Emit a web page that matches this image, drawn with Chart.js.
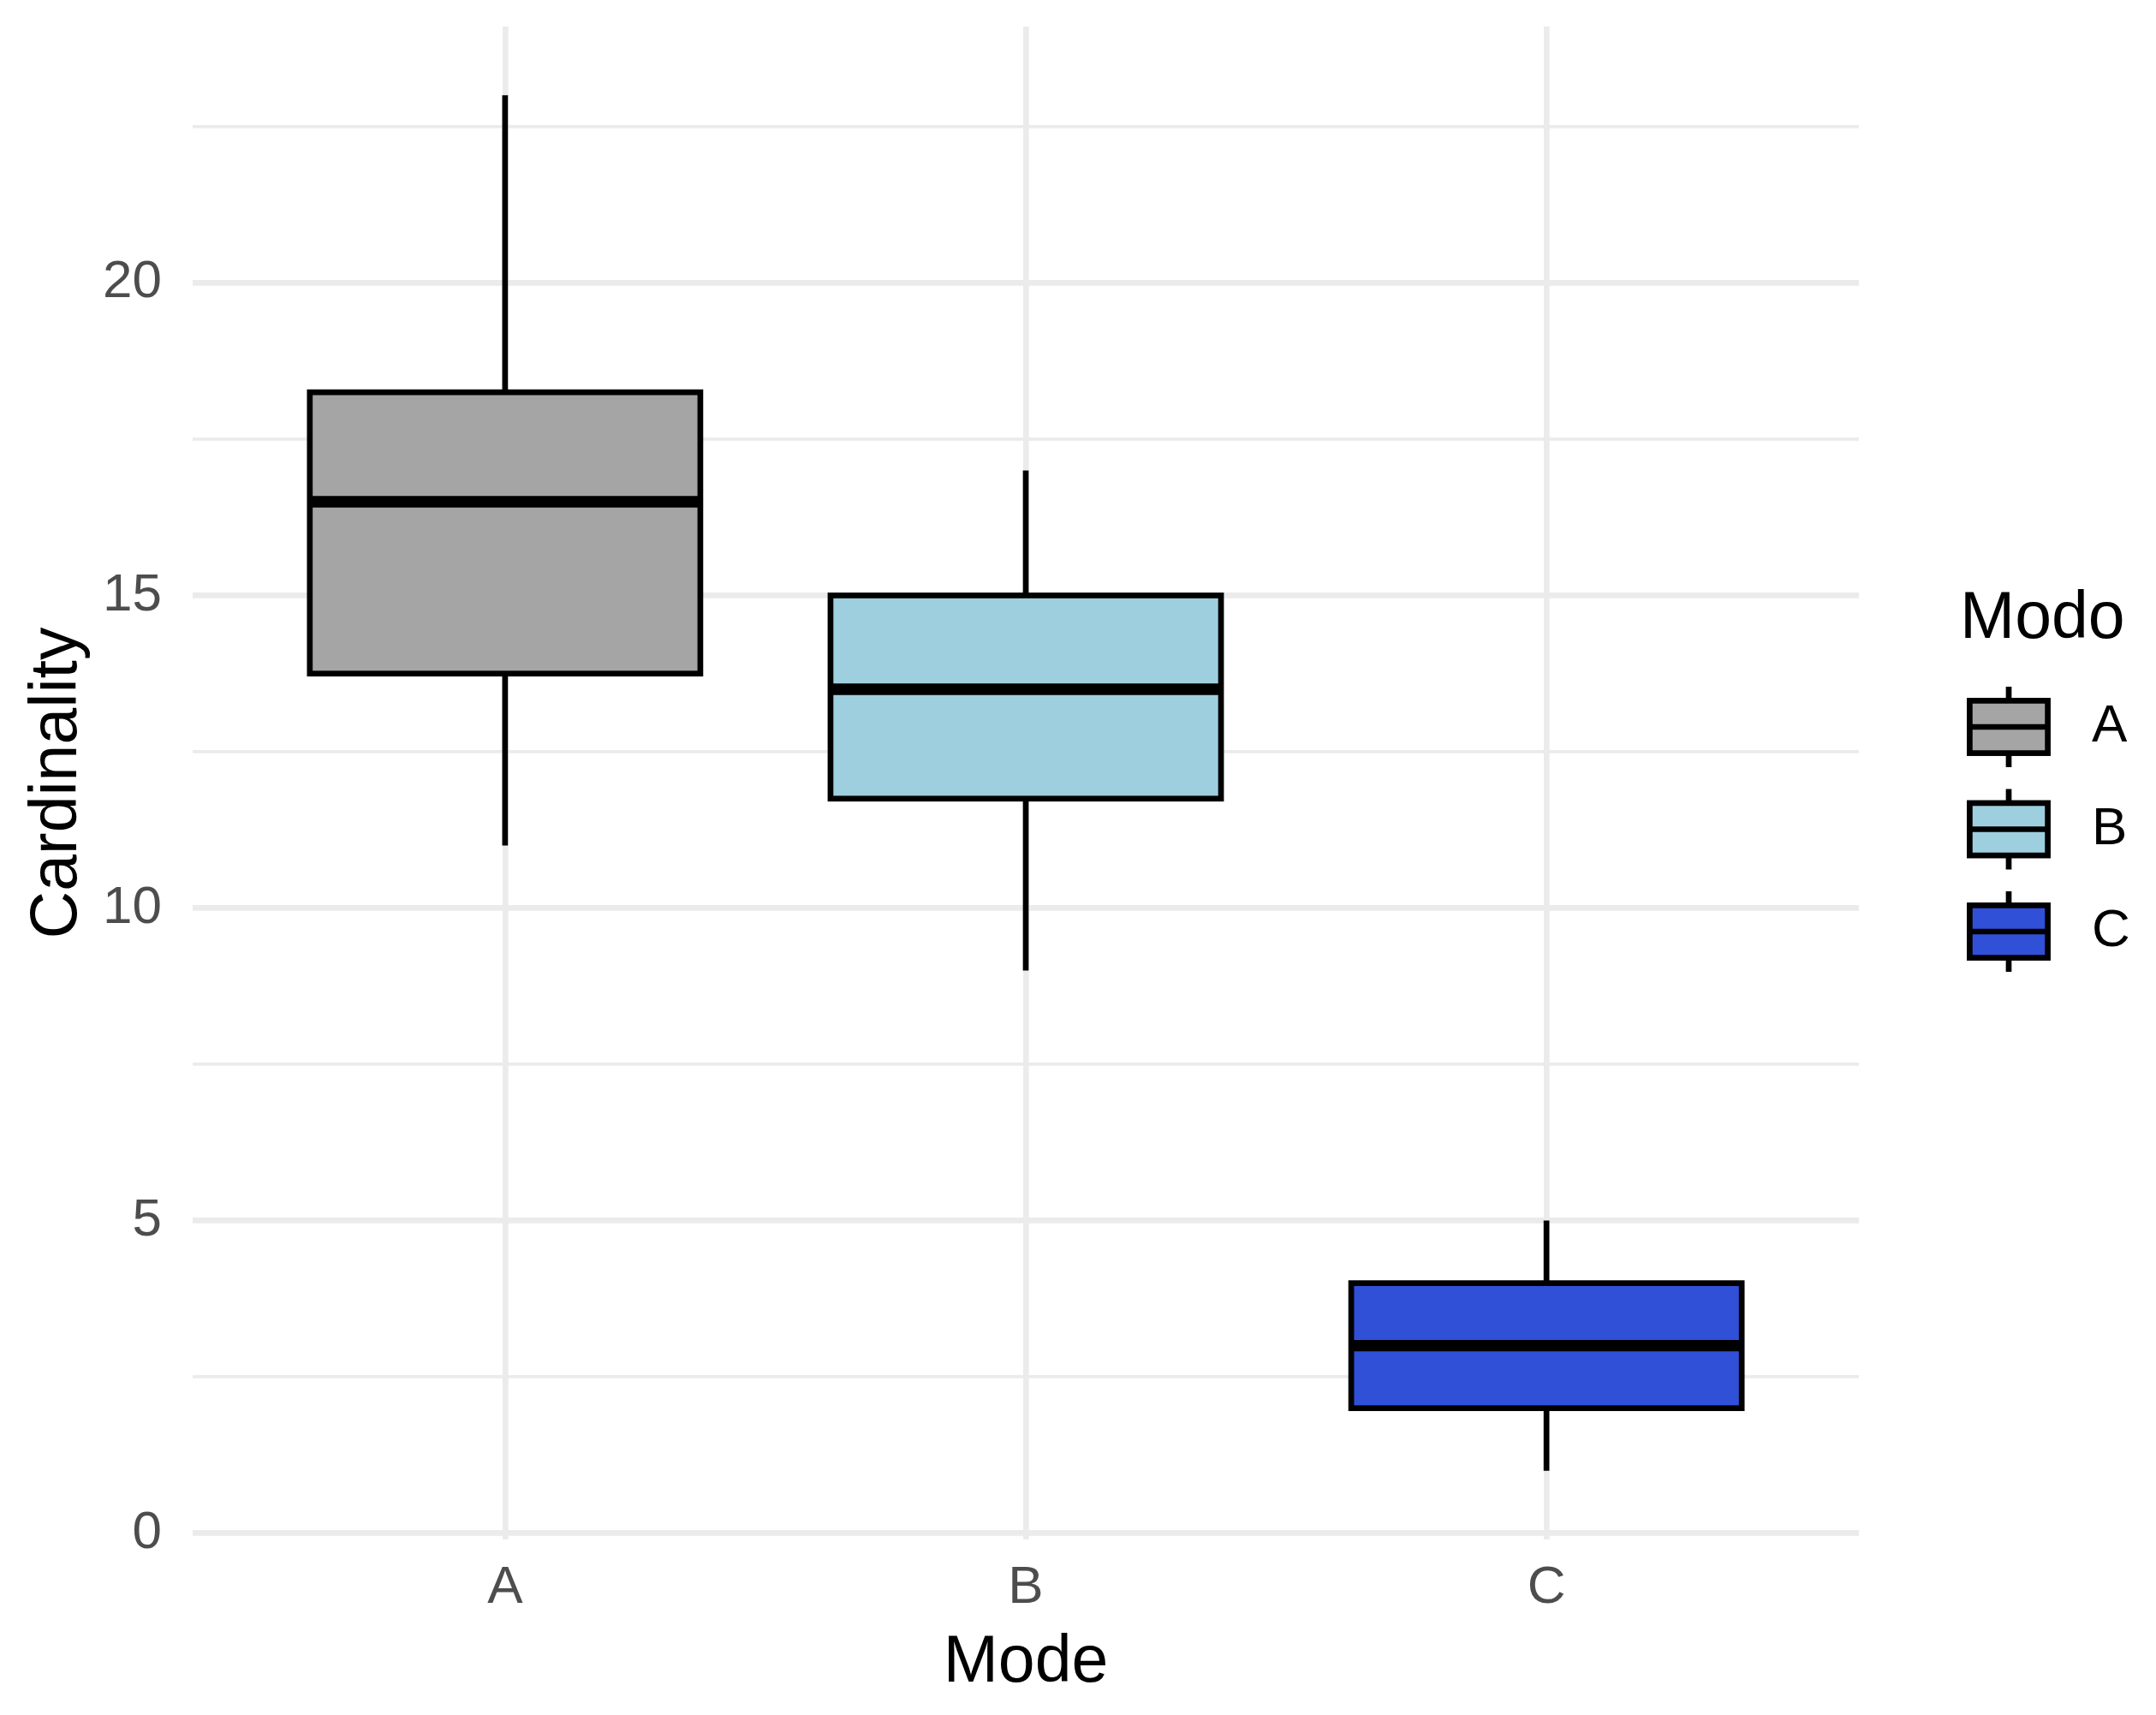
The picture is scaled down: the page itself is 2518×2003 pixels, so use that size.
<!DOCTYPE html>
<html>
<head>
<meta charset="utf-8">
<script src="https://cdn.jsdelivr.net/npm/chart.js@4.4.1/dist/chart.umd.min.js"></script>
<style>
  html, body { margin: 0; padding: 0; background: #ffffff; }
  #wrap { width: 2518px; height: 2003px; }
</style>
</head>
<body>
<div id="wrap"><canvas id="boxChart" width="2518" height="2003"></canvas></div>
<script>
// data
const modes = ['A', 'B', 'C'];
const whiskerLow = [11, 9, 1];
const q1 = [13.75, 11.75, 2];
const medians = [16.5, 13.5, 3];
const q3 = [18.25, 15, 4];
const whiskerHigh = [23, 17, 5];
const yTicks = [0, 2.5, 5, 7.5, 10, 12.5, 15, 17.5, 20, 22.5];
const fills = ['#a5a5a5', '#9ecfde', '#3150d8'];

const FONT = "'Liberation Sans', Arial, sans-serif";
const LINE = 6.7; // ggplot 0.5mm at this size

// whiskers, box outlines, medians and the legend
const boxParts = {
    id: 'boxParts',
    beforeDatasetsDraw(chart) {
        const { ctx, scales: { x, y } } = chart;
        ctx.save();
        ctx.strokeStyle = '#000';
        ctx.lineWidth = LINE;
        ctx.lineCap = 'butt';
        modes.forEach((m, i) => {
            const px = x.getPixelForValue(i + 1);
            ctx.beginPath();
            ctx.moveTo(px, y.getPixelForValue(whiskerHigh[i]));
            ctx.lineTo(px, y.getPixelForValue(q3[i]));
            ctx.moveTo(px, y.getPixelForValue(q1[i]));
            ctx.lineTo(px, y.getPixelForValue(whiskerLow[i]));
            ctx.stroke();
        });
        ctx.restore();
    },
    afterDatasetsDraw(chart) {
        const { ctx, scales: { y } } = chart;
        const meta = chart.getDatasetMeta(0);
        ctx.save();
        ctx.strokeStyle = '#000';
        meta.data.forEach((bar, i) => {
            const { x, y: top, base, width } = bar.getProps(['x', 'y', 'base', 'width'], true);
            const left = x - width / 2;
            ctx.lineWidth = LINE;
            ctx.strokeRect(left, Math.min(top, base), width, Math.abs(base - top));
            const ym = y.getPixelForValue(medians[i]);
            ctx.lineWidth = LINE * 2;
            ctx.beginPath();
            ctx.moveTo(left, ym);
            ctx.lineTo(left + width, ym);
            ctx.stroke();
        });
        ctx.restore();
    },
    afterDraw(chart) {
        const { ctx } = chart;
        ctx.save();
        ctx.fillStyle = '#000';
        ctx.font = '77px ' + FONT;
        ctx.textBaseline = 'alphabetic';
        ctx.textAlign = 'left';
        ctx.fillText('Modo', 2289, 745);

        const cx = 2346;
        modes.forEach((m, i) => {
            const cy = 849 + i * 119.5;
            ctx.strokeStyle = '#000';
            ctx.lineWidth = LINE;
            ctx.beginPath();
            ctx.moveTo(cx, cy - 47);
            ctx.lineTo(cx, cy + 47);
            ctx.stroke();
            ctx.fillStyle = fills[i];
            ctx.fillRect(cx - 45.6, cy - 30.6, 91.2, 61.2);
            ctx.strokeRect(cx - 45.6, cy - 30.6, 91.2, 61.2);
            ctx.beginPath();
            ctx.moveTo(cx - 45.6, cy);
            ctx.lineTo(cx + 45.6, cy);
            ctx.stroke();

            ctx.fillStyle = '#000';
            ctx.font = '62px ' + FONT;
            ctx.textBaseline = 'middle';
            ctx.fillText(m, 2443, cy);
        });
        ctx.restore();
    }
};

const ctx = document.getElementById('boxChart').getContext('2d');
new Chart(ctx, {
    type: 'bar',
    data: {
        datasets: [{
            label: 'Modo',
            data: modes.map((m, i) => ({ x: i + 1, y: [q1[i], q3[i]] })),
            backgroundColor: fills,
            borderWidth: 0,
            categoryPercentage: 1,
            barPercentage: 0.75
        }]
    },
    options: {
        responsive: false,
        animation: false,
        events: [],
        layout: { padding: { top: 31, right: 347, left: 0, bottom: 0 } },
        plugins: {
            legend: { display: false },
            tooltip: { enabled: false }
        },
        scales: {
            x: {
                type: 'linear',
                min: 0.4,
                max: 3.6,
                offset: false,
                afterBuildTicks: scale => {
                    scale.ticks = modes.map((m, i) => ({ value: i + 1 }));
                },
                afterFit: scale => {
                    scale.height = 205;
                    scale.paddingLeft = 0;
                    scale.paddingRight = 0;
                },
                grid: { color: '#ebebeb', lineWidth: LINE, drawTicks: false, offset: false },
                border: { display: false },
                ticks: {
                    color: '#4d4d4d',
                    padding: 20,
                    maxRotation: 0,
                    font: { family: FONT, size: 62 },
                    callback: v => modes[Math.round(v) - 1]
                },
                title: {
                    display: true,
                    text: 'Mode',
                    color: '#000',
                    padding: { top: 0, bottom: 14 },
                    font: { family: FONT, size: 77 }
                }
            },
            y: {
                min: -0.1,
                max: 24.1,
                afterBuildTicks: scale => {
                    scale.ticks = yTicks.map(v => ({ value: v }));
                },
                afterFit: scale => {
                    scale.width = 225;
                    scale.paddingTop = 0;
                    scale.paddingBottom = 0;
                },
                grid: {
                    color: '#ebebeb',
                    drawTicks: false,
                    lineWidth: c => (c.tick && c.tick.value % 5 === 0 ? LINE : 3.8)
                },
                border: { display: false },
                ticks: {
                    color: '#4d4d4d',
                    padding: 36,
                    font: { family: FONT, size: 62 },
                    callback: v => (v % 5 === 0 ? String(v) : '')
                },
                title: {
                    display: true,
                    text: 'Cardinality',
                    color: '#000',
                    padding: { top: 22, bottom: 0 },
                    font: { family: FONT, size: 77 }
                }
            }
        }
    },
    plugins: [boxParts]
});
</script>
</body>
</html>
